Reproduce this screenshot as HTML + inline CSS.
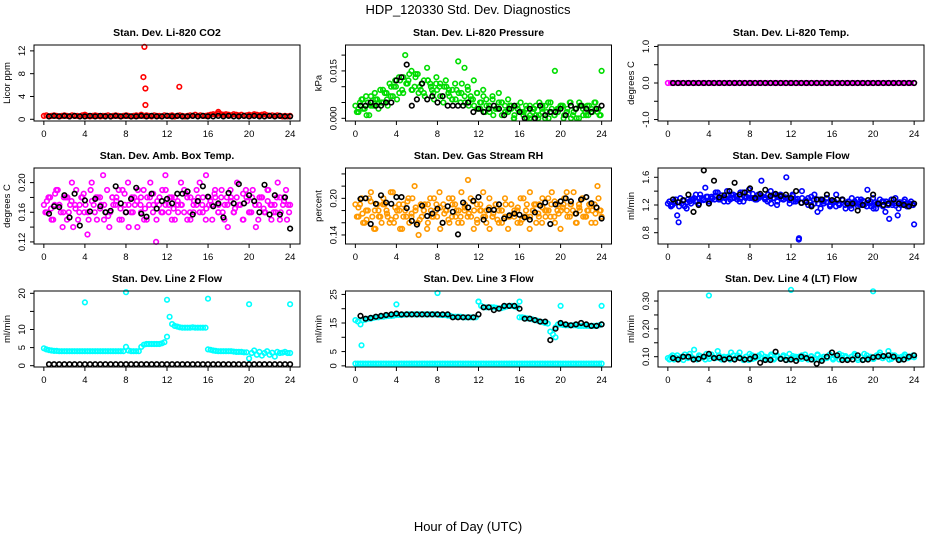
<!DOCTYPE html>
<html><head><meta charset="utf-8"><style>
html,body{margin:0;padding:0;background:#fff;}
svg{display:block;font-family:"Liberation Sans",sans-serif;}
</style></head><body>
<svg id="chart" width="936" height="540" viewBox="0 0 936 540">
<rect x="0" y="0" width="936" height="540" fill="#fff"/>
<text x="468" y="14" text-anchor="middle" font-size="13">HDP_120330  Std. Dev. Diagnostics</text>
<text x="468" y="531" text-anchor="middle" font-size="13">Hour of Day (UTC)</text>
</svg>
<script>
const xTicks=[0,4,8,12,16,20,24];
const titles=["Stan. Dev. Li-820 CO2","Stan. Dev. Li-820 Pressure","Stan. Dev. Li-820 Temp.","Stan. Dev. Amb. Box Temp.","Stan. Dev. Gas Stream RH","Stan. Dev. Sample Flow","Stan. Dev. Line 2 Flow","Stan. Dev. Line 3 Flow","Stan. Dev. Line 4 (LT) Flow"];
const units=["Licor ppm","kPa","degrees C","degrees C","percent","ml/min","ml/min","ml/min","ml/min"];
const yTicks=[[0,4,8,12],[0,0.005,0.01,0.015,0.02],[-1,-0.5,0,0.5,1],[0.12,0.14,0.16,0.18,0.2],[0.14,0.16,0.18,0.2,0.22,0.24],[0.8,1.0,1.2,1.4,1.6],[0,5,10,15,20],[0,5,10,15,20,25],[0.1,0.15,0.2,0.25,0.3]];
const yLabels=[["0","4","8","12"],["0.000","","","0.015",""],["-1.0","","0.0","","1.0"],["0.12","","0.16","","0.20"],["0.14","","","0.20","",""],["0.8","","1.2","","1.6"],["0","5","10","","20"],["0","5","","15","","25"],["0.10","","0.20","","0.30"]];
const yRange=[[-0.3,13.03],[-0.00085,0.0232],[-1.04,1.04],[0.1172,0.2197],[0.1252,0.2497],[0.637,1.734],[-0.36,20.64],[-0.4,26.2],[0.063,0.336]];

// CO2
const co2Red=[0.6,0.7,0.5,0.6,0.7,0.6,0.5,0.6,0.7,0.6,0.5,0.7,0.6,0.6,0.5,0.7,0.8,0.6,0.5,0.6,0.7,0.6,0.5,0.6,0.6,0.7,0.5,0.6,0.7,0.6,0.5,0.6,0.7,0.6,0.5,0.6,0.7,0.6,0.8,0.6,0.7,0.6,0.5,0.7,0.6,0.6,0.5,0.7,0.6,0.6,0.7,0.5,0.6,0.7,0.6,0.5,0.6,0.7,0.6,0.8,0.6,0.7,0.6,0.6,0.7,0.8,0.9,0.8,1.0,0.9,0.8,0.9,0.8,0.7,0.9,0.8,0.7,0.8,0.6,0.7,0.8,0.7,0.9,0.8,0.7,0.8,0.9,0.7,0.6,0.7,0.6,0.7,0.6,0.5,0.6,0.5,0.6];
const co2OutT=[9.7,9.8,9.9,9.9,13.2,17];
const co2OutV=[7.4,12.7,5.4,2.5,5.7,1.3];
const co2Black=[0.5,0.6,0.5,0.6,0.5,0.6,0.5,0.5,0.6,0.5,0.6,0.5,0.5,0.6,0.5,0.6,0.5,0.5,0.6,0.5,0.6,0.5,0.5,0.6,0.5,0.6,0.5,0.5,0.6,0.5,0.6,0.5,0.5,0.6,0.5,0.6,0.5,0.5,0.6,0.5,0.6,0.5,0.5,0.6,0.5,0.6,0.5,0.5];
// Pressure
const presA=[.004,.002,.006,.003,.005,.007,.004,.006,.009,.005,.008,.011,.007,.010,.013,.009,.020,.012,.015,.010,.014,.009,.012,.016,.011,.008,.013,.010,.007,.012,.009,.006,.011,.018,.008,.016,.010,.007,.012,.008,.005,.009,.006,.004,.007,.003,.008,.005,.002,.006,.004,.001,.003,.005,.002,.000,.004,.003,.001,.005,.002,.004,.000,.003,.015,.002,.004,.001,.003,.005,.002,.000,.004,.003,.001,.004,.002,.005,.003,.015];
const presB=[.002,.005,.003,.007,.001,.004,.006,.003,.005,.008,.004,.007,.010,.006,.012,.008,.011,.014,.009,.013,.008,.011,.007,.012,.010,.006,.009,.011,.005,.010,.007,.009,.006,.008,.011,.005,.009,.006,.004,.008,.003,.007,.004,.002,.006,.003,.005,.001,.004,.002,.003,.000,.004,.002,.001,.003,.000,.002,.004,.001,.003,.000,.005,.002,.001,.003,.004,.000,.002,.005,.001,.003,.000,.004,.002,.001,.003,.005,.002,.001];
const presC=[.003,.006,.001,.004,.008,.005,.009,.006,.010,.012,.008,.013,.011,.009,.014,.010,.008,.012,.009,.011,.007,.010,.008,.006,.009,.005,.007,.004,.006,.003,.005,.002,.004,.001,.003,.005,.002,.004,.000,.003,.002,.004,.001,.003,.000,.004,.002,.005,.001,.003,.004,.002,.000,.003,.005,.001,.004,.002,.003,.001];
const presBlack=[.004,.004,.005,.004,.004,.005,.005,.012,.013,.017,.004,.006,.011,.006,.007,.005,.007,.004,.004,.004,.004,.005,.002,.003,.002,.003,.004,.003,.001,.003,.004,.002,.000,.003,.000,.004,.001,.002,.002,.003,.001,.004,.003,.004,.003,.002,.003,.004];
// Li-820 temp
const tempMag=[0,0,0,0,0,0,0,0,0,0,0,0,0,0,0,0,0,0,0,0,0,0,0,0,0,0,0,0,0,0,0,0,0,0,0,0,0,0,0,0,0,0,0,0,0,0,0,0,0,0,0,0,0,0,0,0,0,0,0,0,0,0,0,0,0,0,0,0,0,0,0,0,0,0,0,0,0,0,0,0];
const tempBlack=[0,0,0,0,0,0,0,0,0,0,0,0,0,0,0,0,0,0,0,0,0,0,0,0,0,0,0,0,0,0,0,0,0,0,0,0,0,0,0,0,0,0,0,0,0,0,0,0];
// Amb box temp
const ambA=[.17,.16,.18,.15,.19,.17,.14,.18,.16,.20,.17,.15,.18,.16,.13,.19,.17,.15,.18,.21,.16,.14,.18,.17,.19,.15,.17,.20,.16,.18,.14,.17,.19,.15,.18,.16,.12,.17,.19,.21,.16,.18,.15,.17,.20,.16,.18,.15,.17,.19,.16,.18,.21,.17,.15,.18,.16,.19,.17,.14,.18,.16,.20,.17,.15,.18,.16,.19,.14,.17,.18,.16,.19,.15,.17,.20,.16,.18,.15,.17];
const ambB=[.16,.18,.15,.17,.19,.16,.18,.15,.17,.14,.19,.16,.18,.17,.15,.20,.16,.18,.17,.15,.19,.16,.17,.18,.15,.19,.16,.14,.18,.17,.19,.16,.15,.18,.20,.17,.15,.18,.16,.19,.17,.15,.18,.16,.17,.19,.15,.18,.16,.17,.20,.16,.15,.18,.17,.19,.16,.18,.15,.17,.19,.16,.18,.17,.15,.19,.16,.18,.17,.15,.18,.16,.19,.17,.16,.18,.15,.17,.19,.16];
const ambC=[.175,.165,.185,.17,.16,.18,.175,.165,.17,.185,.16,.175,.18,.165,.17,.155,.18,.175,.165,.185,.17,.16,.175,.18,.165,.17,.185,.175,.16,.17,.18,.165,.175,.17,.185,.16,.175,.18,.17,.165,.175,.185,.17,.16,.18,.175,.165,.17,.185,.175,.16,.17,.18,.165,.175,.17,.16,.18,.175,.17];
const ambBlack=[.158,.168,.167,.183,.153,.185,.142,.176,.161,.178,.168,.160,.162,.195,.172,.160,.178,.193,.158,.154,.185,.165,.175,.178,.172,.185,.185,.188,.157,.175,.195,.181,.168,.172,.153,.186,.172,.198,.172,.183,.175,.160,.197,.157,.183,.157,.180,.138];
// Gas stream RH
const rhA=[.19,.17,.20,.16,.18,.21,.15,.19,.17,.20,.18,.16,.21,.17,.19,.15,.18,.20,.17,.22,.16,.19,.18,.15,.20,.17,.19,.21,.16,.18,.20,.17,.19,.16,.21,.18,.17,.20,.15,.19,.18,.21,.16,.20,.17,.19,.18,.16,.20,.17,.19,.18,.16,.20,.17,.19,.21,.18,.16,.19,.20,.17,.18,.21,.16,.19,.18,.20,.17,.19,.21,.16,.18,.20,.17,.19,.18,.16,.20,.17];
const rhB=[.17,.19,.16,.18,.20,.17,.15,.18,.16,.19,.17,.21,.16,.18,.15,.19,.17,.16,.20,.18,.14,.17,.19,.16,.18,.20,.17,.15,.19,.18,.16,.20,.17,.18,.16,.19,.23,.17,.18,.16,.19,.17,.18,.15,.17,.19,.16,.18,.17,.15,.19,.17,.18,.16,.20,.17,.15,.18,.19,.17,.16,.18,.20,.19,.17,.18,.15,.19,.21,.17,.18,.16,.19,.20,.17,.18,.16,.19,.22,.18];
const rhC=[.185,.175,.165,.195,.18,.17,.19,.175,.165,.185,.18,.17,.195,.175,.185,.165,.18,.19,.17,.18,.185,.175,.165,.19,.18,.17,.185,.175,.195,.165,.18,.17,.185,.175,.165,.18,.19,.17,.175,.185,.165,.18,.17,.19,.175,.185,.18,.17,.195,.175,.185,.18,.19,.175,.185,.17,.18,.19,.175,.18];
const rhBlack=[.199,.200,.158,.191,.205,.193,.191,.202,.202,.184,.163,.157,.188,.171,.175,.183,.160,.187,.178,.141,.193,.185,.196,.202,.165,.181,.181,.190,.167,.172,.175,.173,.169,.165,.177,.188,.193,.158,.190,.195,.200,.195,.175,.198,.202,.192,.185,.167];
// Sample flow
const flowA=[1.22,1.18,1.25,1.05,1.30,1.20,1.15,1.25,1.28,1.35,1.22,1.30,1.45,1.25,1.32,1.28,1.38,1.30,1.25,1.40,1.28,1.35,1.32,1.25,1.38,1.30,1.42,1.30,1.28,1.35,1.55,1.30,1.25,1.40,1.35,1.20,1.32,1.28,1.60,1.30,1.35,1.25,0.70,1.40,1.25,1.30,1.20,1.35,1.10,1.28,1.22,1.30,1.18,1.25,1.35,1.20,1.28,1.15,1.22,1.30,1.25,1.18,1.28,1.20,1.42,1.25,1.15,1.22,1.28,1.18,1.25,1.00,1.20,1.30,1.15,1.22,1.28,1.18,1.25,0.92];
const flowB=[1.25,1.20,1.28,0.95,1.22,1.18,1.28,1.22,1.30,1.25,1.35,1.28,1.32,1.25,1.30,1.38,1.28,1.34,1.30,1.25,1.35,1.30,1.28,1.38,1.25,1.32,1.30,1.36,1.28,1.30,1.33,1.28,1.35,1.22,1.30,1.25,1.35,1.28,1.30,1.22,1.33,1.28,0.72,1.30,1.25,1.20,1.32,1.22,1.28,1.15,1.25,1.30,1.20,1.25,1.18,1.22,1.28,1.20,1.25,1.15,1.22,1.28,1.20,1.25,1.18,1.22,1.30,1.15,1.22,1.25,1.10,1.20,1.28,1.22,1.05,1.20,1.25,1.18,1.22,1.20];
const flowC=[1.20,1.23,1.18,1.26,1.24,1.28,1.25,1.30,1.27,1.32,1.29,1.34,1.28,1.31,1.35,1.30,1.33,1.29,1.32,1.36,1.30,1.28,1.33,1.31,1.27,1.30,1.34,1.29,1.31,1.27,1.25,1.29,1.23,1.27,1.24,1.28,1.22,1.26,1.24,1.20,1.25,1.22,1.27,1.23,1.19,1.24,1.21,1.26,1.23,1.18,1.24,1.21,1.25,1.20,1.23,1.19,1.24,1.21,1.22,1.20];
const flowBlack=[1.28,1.24,1.27,1.35,1.10,1.20,1.70,1.22,1.55,1.31,1.34,1.40,1.52,1.35,1.38,1.44,1.30,1.36,1.42,1.33,1.36,1.33,1.35,1.30,1.40,1.23,1.24,1.18,1.28,1.28,1.35,1.27,1.28,1.28,1.22,1.22,1.12,1.20,1.27,1.35,1.22,1.20,1.22,1.28,1.22,1.20,1.18,1.22];
// Line 2
const l2Cyan=[4.8,4.5,4.3,4.2,4.1,4.1,4,4,4,4,4,4,4,4,4,4,4,4,4,4,4,4,4,4,4,4,4,4,4,4,4,4,5.2,4.2,4,4,4,4,5.2,5.8,6,6,6,6,6,6,6.2,6.5,8,13.5,11.5,11,10.8,10.6,10.5,10.5,10.5,10.5,10.6,10.5,10.5,10.5,10.5,10.5,4.5,4.4,4.2,4.1,4,4,4,4,4,4,3.9,3.8,3.8,3.8,3.7,3.7,2,3.5,4.2,3,3.8,2.8,3.5,4,3,3.6,2.5,3.8,3.5,3.6,3.8,3.5,3.5];
const l2OutT=[4,8,12,16,20,24];
const l2OutV=[17.5,20.3,18.2,18.5,17,17];
const l2Black=[0.4,0.4,0.4,0.4,0.4,0.4,0.4,0.4,0.4,0.4,0.4,0.4,0.4,0.4,0.4,0.4,0.4,0.4,0.4,0.4,0.4,0.4,0.4,0.4,0.4,0.4,0.4,0.4,0.4,0.4,0.4,0.4,0.4,0.4,0.4,0.4,0.4,0.4,0.4,0.4,0.4,0.4,0.4,0.4,0.4,0.4,0.4,0.4];
// Line 3
const l3Low=[0.8,0.8,0.8,0.8,0.8,0.8,0.8,0.8,0.8,0.8,0.8,0.8,0.8,0.8,0.8,0.8,0.8,0.8,0.8,0.8,0.8,0.8,0.8,0.8,0.8,0.8,0.8,0.8,0.8,0.8,0.8,0.8,0.8,0.8,0.8,0.8,0.8,0.8,0.8,0.8,0.8,0.8,0.8,0.8,0.8,0.8,0.8,0.8,0.8,0.8,0.8,0.8,0.8,0.8,0.8,0.8,0.8,0.8,0.8,0.8,0.8,0.8,0.8,0.8,0.8,0.8,0.8,0.8,0.8,0.8,0.8,0.8,0.8,0.8,0.8,0.8,0.8,0.8,0.8,0.8,0.8,0.8,0.8,0.8,0.8,0.8,0.8,0.8,0.8,0.8,0.8,0.8,0.8,0.8,0.8,0.8,0.8];
const l3Cyan=[16,15.5,14.5,16,16.2,16.5,16.5,16.8,17,17,17.2,17.2,17.4,17.5,17.5,17.6,17.8,17.8,17.8,17.9,18,18,18,18,18,18,18,18,18,18,18,18,18,17.8,17.8,17.8,17.6,17.5,17.2,17.2,17.2,17.2,17,17,17,17,17,17,22.5,21,20.5,20.5,20.5,20.5,20.5,20.3,20,20.2,20.5,20.8,21,21,20.8,20.5,17,17,16.8,16.6,16.5,16.3,16,15.8,15.5,15.3,15,14.8,12,11,13.5,14.5,14.5,14.3,14.2,14.2,14.2,14.2,14.2,14,14,14,14,14,14,14,14,14.2,14.5];
const l3OutT=[0.6,4,8,12,16,20,24,19.5];
const l3OutV=[7.2,21.5,25.5,22.5,22.5,21,21,10];
const l3Black=[17.5,16.5,16.8,17.2,17.5,17.8,18,18.3,18,18,18,18,18,18,18,18,18,18,17,17,17,17,17,18,20.5,20.5,19.5,20,21,21,21,20,16.5,16.5,16,15.5,15.5,9,13,15,14.5,14.2,14.5,15,14.5,14,14,14.5];
// Line 4
const l4A=[.095,.100,.090,.105,.095,.088,.100,.110,.095,.092,.105,.098,.090,.100,.108,.095,.120,.092,.100,.096,.090,.105,.098,.115,.092,.100,.088,.105,.095,.100,.110,.092,.098,.102,.090,.105,.095,.100,.088,.110,.095,.100,.092,.105,.098,.090,.102,.095,.108,.092,.100,.095,.105,.090,.098,.110,.095,.102,.092,.100,.105,.088,.098,.110,.095,.100,.092,.105,.115,.095,.100,.090,.105,.098,.092,.100,.108,.095,.100,.098];
const l4B=[.090,.105,.098,.092,.100,.108,.095,.100,.125,.090,.102,.097,.110,.092,.100,.095,.105,.090,.098,.100,.115,.092,.105,.095,.088,.100,.110,.092,.098,.105,.095,.100,.090,.108,.095,.100,.092,.105,.098,.090,.102,.095,.100,.092,.108,.095,.100,.090,.105,.098,.092,.100,.108,.095,.100,.090,.105,.098,.092,.100,.110,.095,.100,.090,.105,.098,.092,.100,.108,.095,.100,.120,.092,.105,.098,.090,.102,.095,.100,.105];
const l4OutT=[4,12,20];
const l4OutV=[0.32,0.34,0.335];
const l4Black=[.095,.09,.10,.10,.09,.092,.10,.11,.095,.097,.09,.094,.09,.095,.09,.092,.10,.078,.088,.088,.118,.092,.088,.09,.085,.10,.095,.09,.075,.085,.10,.115,.105,.088,.088,.09,.105,.088,.09,.098,.10,.102,.105,.10,.088,.09,.10,.105];

const NS="http://www.w3.org/2000/svg";
const svg=document.getElementById('chart');
function mk(tag,attrs,parent){const e=document.createElementNS(NS,tag);for(const k in attrs)e.setAttribute(k,attrs[k]);(parent||svg).appendChild(e);return e;}
const boxLeft=[34,345.5,658], boxTop=[45,168,291], boxW=266, boxH=76;
const xMin=-0.96,xMax=24.96;

const series=[
 [0,co2Red,null,0,24,'#ff0000'],[0,co2OutV,co2OutT,0,0,'#ff0000'],[0,co2Black,null,0.5,24,'#000000'],
 [1,presA,null,0,24,'#00dd00'],[1,presB,null,0.15,23.9,'#00dd00'],[1,presC,null,0.3,23.8,'#00dd00'],[1,presBlack,null,0.5,24,'#000000'],
 [2,tempMag,null,0,24,'#ff00ff'],[2,tempBlack,null,0.5,24,'#000000'],
 [3,ambA,null,0,24,'#ff00ff'],[3,ambB,null,0.15,23.9,'#ff00ff'],[3,ambC,null,0.3,23.8,'#ff00ff'],[3,ambBlack,null,0.5,24,'#000000'],
 [4,rhA,null,0,24,'#ff9900'],[4,rhB,null,0.15,23.9,'#ff9900'],[4,rhC,null,0.3,23.8,'#ff9900'],[4,rhBlack,null,0.5,24,'#000000'],
 [5,flowA,null,0,24,'#0000ff'],[5,flowB,null,0.15,23.9,'#0000ff'],[5,flowC,null,0.3,23.8,'#0000ff'],[5,flowBlack,null,0.5,24,'#000000'],
 [6,l2Cyan,null,0,24,'#00ffff'],[6,l2OutV,l2OutT,0,0,'#00ffff'],[6,l2Black,null,0.5,24,'#000000'],
 [7,l3Low,null,0,24,'#00ffff'],[7,l3Cyan,null,0,24,'#00ffff'],[7,l3OutV,l3OutT,0,0,'#00ffff'],[7,l3Black,null,0.5,24,'#000000'],
 [8,l4A,null,0,24,'#00ffff'],[8,l4B,null,0.15,23.9,'#00ffff'],[8,l4OutV,l4OutT,0,0,'#00ffff'],[8,l4Black,null,0.5,24,'#000000']
];

const panels=[];
for(let p=0;p<9;p++){
  const c=p%3,r=Math.floor(p/3);
  const L=boxLeft[c],T=boxTop[r];
  const xs=v=>L+(v-xMin)/(xMax-xMin)*boxW;
  const ys=v=>T+boxH-(v-yRange[p][0])/(yRange[p][1]-yRange[p][0])*boxH;
  const g=mk('g',{});
  
  
  const pts=mk('g',{fill:'none','stroke-width':'1.6'},g);
  
  
  panels.push({g,pts,xs,ys,L,T});
  const t=mk('text',{x:L+boxW/2,y:T-9,'text-anchor':'middle','font-size':'10.5','font-weight':'bold'},g);
  t.textContent=titles[p];
  
  
  const b=mk('rect',{x:L,y:T,width:boxW,height:boxH,fill:'none',stroke:'#000','stroke-width':'1'},g);
  
  
  mk('line',{x1:xs(0),x2:xs(24),y1:T+boxH,y2:T+boxH,stroke:'#000'},g);
  xTicks.forEach(v=>{
    const tk=mk('line',{x1:xs(v),x2:xs(v),y1:T+boxH,y2:T+boxH+4,stroke:'#000'},g);
    
    
    const tl=mk('text',{x:xs(v),y:T+boxH+16,'text-anchor':'middle','font-size':'9.5'},g);
    tl.textContent=v;
    
    
  });
  const yt=yTicks[p];
  mk('line',{x1:L,x2:L,y1:ys(yt[0]),y2:ys(yt[yt.length-1]),stroke:'#000'},g);
  yt.forEach((v,i)=>{
    const tk=mk('line',{x1:L-4,x2:L,y1:ys(v),y2:ys(v),stroke:'#000'},g);
    
    
    if(yLabels[p][i]){
      const tl=mk('text',{x:L-9,y:ys(v),'text-anchor':'middle','font-size':'9.5',transform:`rotate(-90 ${L-9} ${ys(v)})`},g);
      tl.textContent=yLabels[p][i];
      
      
    }
  });
  const yl=mk('text',{x:L-24,y:T+boxH/2,'text-anchor':'middle','font-size':'9.5',transform:`rotate(-90 ${L-24} ${T+boxH/2})`},g);
  yl.textContent=units[p];
  
  
}
series.forEach(s=>{
  const [p,vals,times,t0,t1,col]=s;
  const P=panels[p];
  vals.forEach((v,i)=>{
    const t=times?times[i]:t0+(vals.length>1?i*(t1-t0)/(vals.length-1):0);
    const c=mk('circle',{cx:P.xs(t).toFixed(1),cy:P.ys(v).toFixed(1),r:'2.3',stroke:col},P.pts);
    
    
  });
});
</script>
</body></html>
